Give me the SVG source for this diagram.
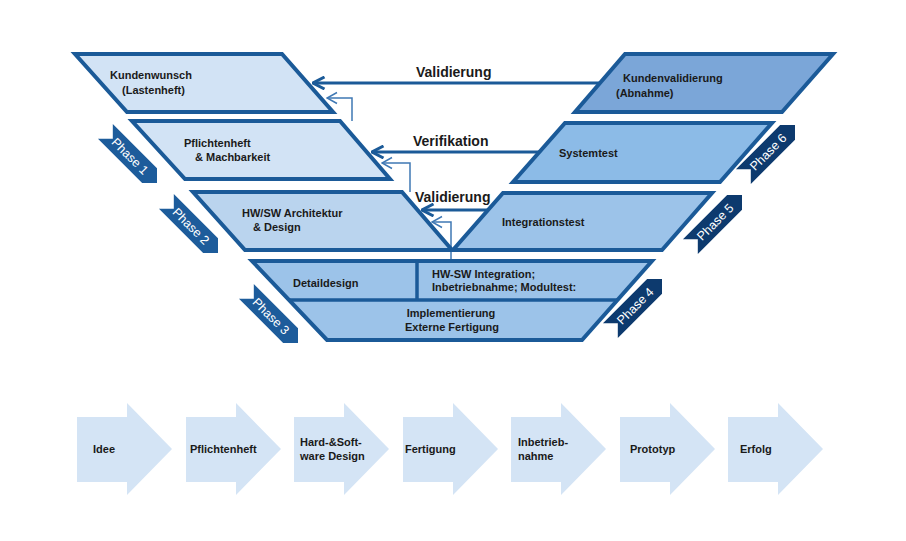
<svg xmlns="http://www.w3.org/2000/svg" width="906" height="541" viewBox="0 0 906 541">
<defs>
<style>
.box{stroke:#1b5a98;stroke-width:4;stroke-linejoin:miter}
.lbl{font-family:"Liberation Sans",Arial,sans-serif;font-size:11px;font-weight:bold;fill:#1a1a1a}
.clbl{font-family:"Liberation Sans",Arial,sans-serif;font-size:14px;font-weight:bold;fill:#1a1a1a}
.ph{font-family:"Liberation Sans",Arial,sans-serif;font-size:12.5px;fill:#ffffff}
.thick{fill:none;stroke:#1b5a98;stroke-width:3}
.thin{fill:none;stroke:#3f78b4;stroke-width:1.5}
.barrow{fill:#d4e4f5}
</style>
<marker id="ah" viewBox="0 0 14 14" refX="12.5" refY="7" markerWidth="14" markerHeight="14" orient="auto" markerUnits="userSpaceOnUse">
<path d="M1,1 L12.5,7 L1,13" fill="none" stroke="#1b5a98" stroke-width="3"/>
</marker>
<marker id="ahs" viewBox="0 0 14 14" refX="12.5" refY="7" markerWidth="14" markerHeight="14" orient="auto" markerUnits="userSpaceOnUse">
<path d="M2.5,1.5 L12.5,7 L2.5,12.5" fill="none" stroke="#3f78b4" stroke-width="1.5"/>
</marker>
<path id="chev" d="M0,0 L-10.5,-10.5 L-73,-10.5 L-62.5,0 L-73,10.5 L-10.5,10.5 Z"/>
</defs>

<g id="connectors">
<line class="thick" x1="599" y1="83" x2="313" y2="83" marker-end="url(#ah)"/>
<line class="thick" x1="539" y1="152" x2="372" y2="152" marker-end="url(#ah)"/>
<line class="thick" x1="488" y1="210" x2="422" y2="210" marker-end="url(#ah)"/>
<path class="thin" d="M352,121 V98 H327" marker-end="url(#ahs)"/>
<path class="thin" d="M410,192 V163 H382" marker-end="url(#ahs)"/>
<path class="thin" d="M451,261 V222 H432" marker-end="url(#ahs)"/>
<text class="clbl" x="416" y="77">Validierung</text>
<text class="clbl" x="413" y="146">Verifikation</text>
<text class="clbl" x="415" y="202">Validierung</text>
</g>

<g id="kundenwunsch">
<polygon class="box" fill="#d2e3f5" points="75,54 282,54 333,112 127,112"/>
<text class="lbl" x="110" y="79">Kundenwunsch</text>
<text class="lbl" x="122" y="94">(Lastenheft)</text>
</g>
<g id="pflichtenheft">
<polygon class="box" fill="#d2e3f5" points="132,121 340,121 390,179 185,179"/>
<text class="lbl" x="184" y="147">Pflichtenheft</text>
<text class="lbl" x="195" y="161">&amp; Machbarkeit</text>
</g>
<g id="architektur">
<polygon class="box" fill="#bad4ee" points="193,192 402,192 452,250 245,250"/>
<text class="lbl" x="242" y="217">HW/SW Architektur</text>
<text class="lbl" x="253" y="231">&amp; Design</text>
</g>
<g id="kundenvalidierung">
<polygon class="box" fill="#7ba6d8" points="625,54 833,54 782,112 575,112"/>
<text class="lbl" x="623" y="82">Kundenvalidierung</text>
<text class="lbl" x="616" y="97">(Abnahme)</text>
</g>
<g id="systemtest">
<polygon class="box" fill="#8cbbe7" points="565,123 772,123 720,182 513,182"/>
<text class="lbl" x="559" y="157">Systemtest</text>
</g>
<g id="integrationstest">
<polygon class="box" fill="#9cc3e9" points="503,193 712,193 662,250 453,250"/>
<text class="lbl" x="502" y="226">Integrationstest</text>
</g>
<g id="unten">
<polygon class="box" fill="#9cc3e9" points="252,261 652,261 582,340 327,340"/>
<line x1="289" y1="300" x2="617" y2="300" stroke="#1b5a98" stroke-width="3.5"/>
<line x1="417" y1="261" x2="417" y2="300" stroke="#1b5a98" stroke-width="3.5"/>
<text class="lbl" x="293" y="287">Detaildesign</text>
<text class="lbl" x="432" y="278">HW-SW Integration;</text>
<text class="lbl" x="432" y="291">Inbetriebnahme; Modultest:</text>
<text class="lbl" x="451" y="317" text-anchor="middle">Implementierung</text>
<text class="lbl" x="452" y="331" text-anchor="middle">Externe Fertigung</text>
</g>

<g id="phase1" transform="translate(157,183) rotate(45)"><use href="#chev" fill="#1d5c9b"/><text class="ph" x="-38" y="4.5" text-anchor="middle">Phase 1</text></g>
<g id="phase2" transform="translate(218,253) rotate(45)"><use href="#chev" fill="#1d5c9b"/><text class="ph" x="-38" y="4.5" text-anchor="middle">Phase 2</text></g>
<g id="phase3" transform="translate(298,343) rotate(45)"><use href="#chev" fill="#1d5c9b"/><text class="ph" x="-38" y="4.5" text-anchor="middle">Phase 3</text></g>
<g id="phase4" transform="translate(662,279) rotate(-45)"><use href="#chev" fill="#0d3a6e"/><text class="ph" x="-38" y="4.5" text-anchor="middle">Phase 4</text></g>
<g id="phase5" transform="translate(742,195) rotate(-45)"><use href="#chev" fill="#0d3a6e"/><text class="ph" x="-38" y="4.5" text-anchor="middle">Phase 5</text></g>
<g id="phase6" transform="translate(795,125) rotate(-45)"><use href="#chev" fill="#0d3a6e"/><text class="ph" x="-38" y="4.5" text-anchor="middle">Phase 6</text></g>

<g id="a1"><polygon class="barrow" points="77,417 127,417 127,403 172,449 127,495 127,482 77,482"/><text class="lbl" x="93" y="453">Idee</text></g>
<g id="a2"><polygon class="barrow" points="186,417 236,417 236,403 281,449 236,495 236,482 186,482"/><text class="lbl" x="190" y="453">Pflichtenheft</text></g>
<g id="a3"><polygon class="barrow" points="294,417 344,417 344,403 389,449 344,495 344,482 294,482"/><text class="lbl" x="300" y="446">Hard-&amp;Soft-</text><text class="lbl" x="300" y="460">ware Design</text></g>
<g id="a4"><polygon class="barrow" points="403,417 453,417 453,403 498,449 453,495 453,482 403,482"/><text class="lbl" x="405" y="453">Fertigung</text></g>
<g id="a5"><polygon class="barrow" points="511,417 561,417 561,403 606,449 561,495 561,482 511,482"/><text class="lbl" x="518" y="446">Inbetrieb-</text><text class="lbl" x="518" y="460">nahme</text></g>
<g id="a6"><polygon class="barrow" points="620,417 670,417 670,403 715,449 670,495 670,482 620,482"/><text class="lbl" x="630" y="453">Prototyp</text></g>
<g id="a7"><polygon class="barrow" points="728,417 778,417 778,403 823,449 778,495 778,482 728,482"/><text class="lbl" x="740" y="453">Erfolg</text></g>
</svg>
